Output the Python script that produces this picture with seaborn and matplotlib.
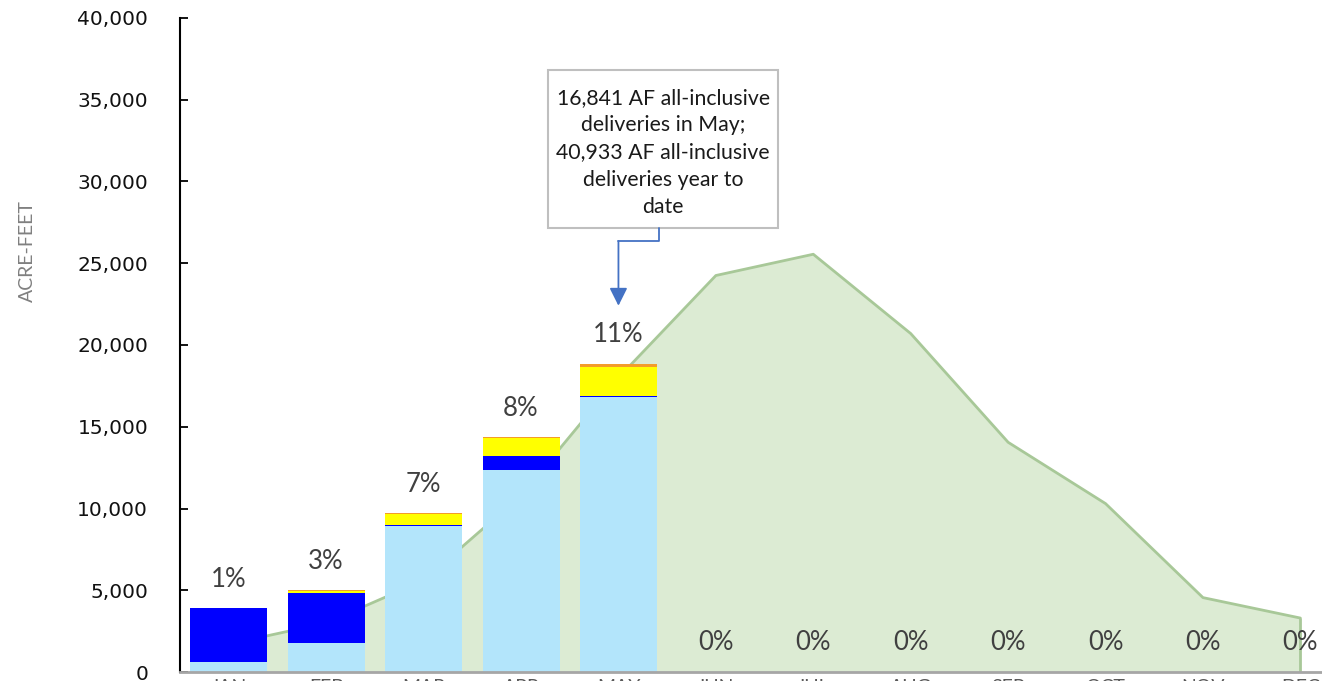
import pandas as pd
import seaborn as sns
import matplotlib.pyplot as plt
from matplotlib.patches import Rectangle
from matplotlib.ticker import FuncFormatter
import numpy as np

# --- Data (acre-feet) ---
months = ["JAN", "FEB", "MAR", "APR", "MAY", "JUN",
          "JUL", "AUG", "SEP", "OCT", "NOV", "DEC"]
base_delivery = [600, 1790, 8900, 12340, 16841, 0, 0, 0, 0, 0, 0, 0]
blue_delivery = [3300, 3030, 100, 860, 40, 0, 0, 0, 0, 0, 0, 0]
yellow_delivery = [0, 150, 650, 1100, 1770, 0, 0, 0, 0, 0, 0, 0]
orange_delivery = [0, 30, 50, 60, 180, 0, 0, 0, 0, 0, 0, 0]
pct_labels = ["1%", "3%", "7%", "8%", "11%", "0%",
              "0%", "0%", "0%", "0%", "0%", "0%"]
area_values = [1700, 3000, 5600, 10800, 18000, 24250,
               25550, 20700, 14050, 10300, 4550, 3300]
box_text = ("16,841 AF all-inclusive\ndeliveries in May;\n"
            "40,933 AF all-inclusive\ndeliveries year to\ndate")
arrow_target = 22400

# --- Global Configuration ---
sns.set_theme(style="white")
plt.rcParams['font.family'] = ['Lato', 'DejaVu Sans']

df = pd.DataFrame({"month": months})
df["l1"] = base_delivery
df["l2"] = df["l1"] + np.array(blue_delivery)
df["l3"] = df["l2"] + np.array(yellow_delivery)
df["l4"] = df["l3"] + np.array(orange_delivery)

fig = plt.figure(figsize=(13.22, 6.81), dpi=100)
ax = fig.add_axes([0.1362, 0.0132, 0.8843, 0.9604])

# stacked bars: draw cumulative tops from largest to smallest
layers = [("l4", "#F39C2A"), ("l3", "#FFFF00"), ("l2", "#0000FF"), ("l1", "#B3E5FB")]
for col, color in layers:
    sns.barplot(data=df, x="month", y=col, order=months, color=color,
                saturation=1, width=0.79, linewidth=0, errorbar=None, ax=ax)

# background area
xs = np.arange(len(months))
ax.fill_between(xs, area_values, color="#DCEBD3", zorder=0.5, linewidth=0)
ax.plot(xs, area_values, color="#A8C898", lw=2, zorder=0.6)
ax.vlines(xs[-1], 0, area_values[-1], color="#A8C898", lw=2, zorder=0.6)

# percent labels
for i, lab in enumerate(pct_labels):
    ax.annotate(lab, (i, df["l4"][i]), xytext=(0, 21), textcoords="offset points",
                ha="center", va="center", fontsize=18.5, color="#404040", zorder=4)

# axes styling
ax.set_xlim(-0.5, 11.5)
ax.set_ylim(0, 40000)
ax.set_yticks(np.arange(0, 40001, 5000))
ax.yaxis.set_major_formatter(FuncFormatter(lambda v, p: f"{int(v):,}"))
for lbl in ax.get_yticklabels():
    lbl.set_family("DejaVu Sans")
ax.tick_params(axis="y", direction="in", length=5.5, width=1.3, color="black",
               pad=23, labelsize=14.5, labelcolor="#111111", left=True)
ax.tick_params(axis="x", length=0, pad=5, labelsize=14, labelcolor="#595959")
for s in ["top", "right"]:
    ax.spines[s].set_visible(False)
ax.spines["left"].set_color("black")
ax.spines["left"].set_linewidth(1.5)
ax.spines["bottom"].set_color("#A6A6A6")
ax.spines["bottom"].set_linewidth(2)
ax.set_xlabel("")
ax.set_ylabel("ACRE-FEET", fontsize=14, color="#808080")
ax.yaxis.set_label_coords(-0.1232, 0.644)
ax.grid(False)

# callout box and connector
ax.add_patch(Rectangle((0.3148, 0.6789), 0.1967, 0.2416, transform=ax.transAxes,
                       facecolor="white", edgecolor="#BFBFBF", lw=1.5, zorder=5))
ax.text(0.4132, 0.7943, box_text, transform=ax.transAxes, ha="center", va="center",
        fontsize=15.3, linespacing=1.46, color="#1A1A1A", zorder=6)
ax.plot([0.4098, 0.4098, 0.375], [0.6789, 0.659, 0.659], transform=ax.transAxes,
        color="#4472C4", lw=1.3, zorder=5, clip_on=False)
ax.annotate("", xy=(4, arrow_target), xycoords="data",
            xytext=(0.375, 0.659), textcoords="axes fraction",
            arrowprops=dict(arrowstyle="-|>,head_length=0.4,head_width=0.2",
                            color="#4472C4", lw=1.3, mutation_scale=27,
                            shrinkA=0, shrinkB=0), zorder=5)

plt.savefig("out.png", dpi=100)
